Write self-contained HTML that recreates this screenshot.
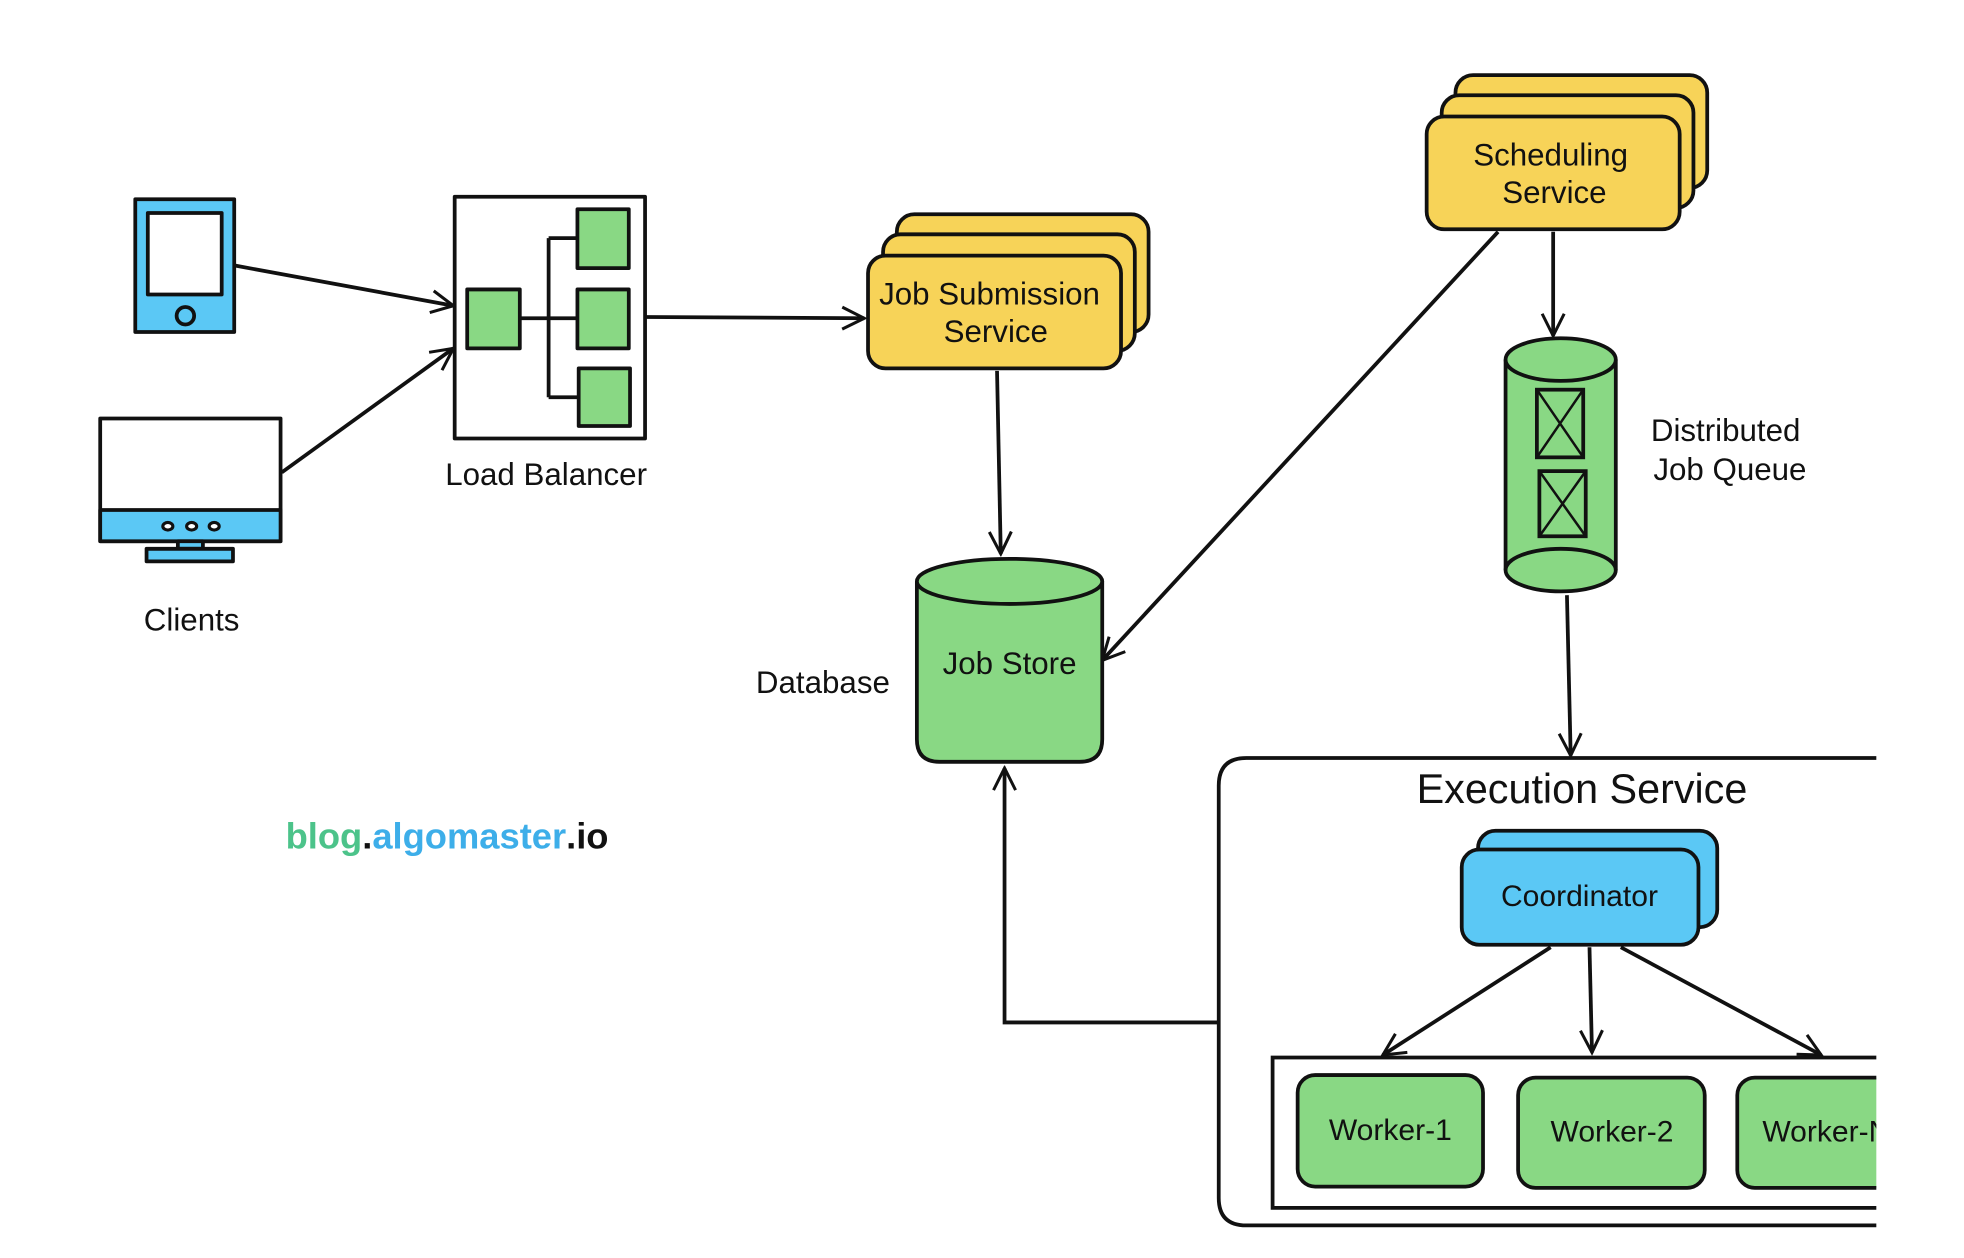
<!DOCTYPE html>
<html><head><meta charset="utf-8"><style>
html,body{margin:0;padding:0;background:#fff;width:1964px;height:1258px;overflow:hidden}
svg{display:block}
text{font-family:"Liberation Sans",sans-serif;fill:#111}
</style></head><body>
<svg width="1964" height="1258" viewBox="0 0 1568 1004" preserveAspectRatio="none" xmlns="http://www.w3.org/2000/svg">
<defs>
<marker id="a" viewBox="0 0 20 20" refX="18" refY="10" markerWidth="22" markerHeight="22" markerUnits="userSpaceOnUse" orient="auto">
<path d="M2,2 L18,10 L2,18" fill="none" stroke="#111" stroke-width="2.2"/>
</marker>
<clipPath id="c"><rect x="0" y="0" width="1498" height="1004"/></clipPath>
</defs>
<g stroke="#111" stroke-width="3" stroke-linejoin="round">
<rect x="108" y="159" width="79" height="106" fill="#5bc8f5"/>
<rect x="118" y="170" width="59" height="65" fill="#fff"/>
<circle cx="148" cy="252" r="7" fill="#5bc8f5"/>
<rect x="80" y="334" width="144" height="98" fill="#fff"/>
<rect x="80" y="407" width="144" height="25" fill="#5bc8f5"/>
<rect x="142" y="432" width="20" height="6" fill="#5bc8f5"/>
<rect x="117" y="438" width="69" height="10" fill="#5bc8f5"/>
<ellipse cx="134" cy="420" rx="4" ry="3" fill="#fff" stroke-width="2.5"/>
<ellipse cx="153" cy="420" rx="4" ry="3" fill="#fff" stroke-width="2.5"/>
<ellipse cx="171" cy="420" rx="4" ry="3" fill="#fff" stroke-width="2.5"/>
<rect x="363" y="157" width="152" height="193" fill="#fff"/>
<path d="M415,254 H461 M438,190 V317 M438,190 H461 M438,317 H461" fill="none"/>
<rect x="373" y="231" width="42" height="47" fill="#89d884"/>
<rect x="461" y="167" width="41" height="47" fill="#89d884"/>
<rect x="461" y="231" width="41" height="47" fill="#89d884"/>
<rect x="462" y="294" width="41" height="46" fill="#89d884"/>
</g>
<g stroke="#111" stroke-width="3" fill="none">
<line x1="188" y1="212" x2="362" y2="244" marker-end="url(#a)"/>
<line x1="225" y1="377" x2="362" y2="278" marker-end="url(#a)"/>
<line x1="515" y1="253" x2="690" y2="254" marker-end="url(#a)"/>
<line x1="796" y1="296" x2="799" y2="442" marker-end="url(#a)"/>
<line x1="1196" y1="185" x2="880" y2="527" marker-end="url(#a)"/>
<line x1="1240" y1="185" x2="1240" y2="268" marker-end="url(#a)"/>
<line x1="1251" y1="475" x2="1254" y2="603" marker-end="url(#a)"/>
<path d="M973,816 H802 V613" marker-end="url(#a)"/>
<line x1="1238" y1="756" x2="1104" y2="842" marker-end="url(#a)"/>
<line x1="1269" y1="756" x2="1271" y2="840" marker-end="url(#a)"/>
<line x1="1294" y1="756" x2="1454" y2="842" marker-end="url(#a)"/>
</g>
<g stroke="#111" stroke-width="3">
<rect x="716" y="171" width="201" height="94" rx="14" fill="#f7d358"/>
<rect x="705" y="187" width="201" height="93" rx="14" fill="#f7d358"/>
<rect x="693" y="204" width="202" height="90" rx="14" fill="#f7d358"/>
<rect x="1162" y="60" width="201" height="90" rx="14" fill="#f7d358"/>
<rect x="1151" y="76" width="201" height="90" rx="14" fill="#f7d358"/>
<rect x="1139" y="93" width="202" height="90" rx="14" fill="#f7d358"/>
<path d="M732,464 V590 Q732,608 750,608 H862 Q880,608 880,590 V464" fill="#89d884"/>
<ellipse cx="806" cy="464" rx="74" ry="18" fill="#89d884"/>
<path d="M1202,287 V455 A44,17 0 0 0 1290,455 V287" fill="#89d884"/>
<ellipse cx="1246" cy="287" rx="44" ry="17" fill="#89d884"/>
<path d="M1202,455 A44,17 0 0 1 1290,455" fill="none"/>
<rect x="1227" y="311" width="37" height="54" fill="#89d884"/>
<path d="M1227,311 L1264,365 M1264,311 L1227,365" fill="none" stroke-width="2"/>
<rect x="1229" y="376" width="37" height="52" fill="#89d884"/>
<path d="M1229,376 L1266,428 M1266,376 L1229,428" fill="none" stroke-width="2"/>
</g>
<g clip-path="url(#c)" stroke="#111" stroke-width="3">
<path d="M1560,605 H995 Q973,605 973,627 V956 Q973,978 995,978 H1560" fill="none"/>
<rect x="1180" y="663" width="191" height="77" rx="14" fill="#5bc8f5"/>
<rect x="1167" y="678" width="189" height="76" rx="14" fill="#5bc8f5"/>
<rect x="1016" y="844" width="560" height="120" fill="none"/>
<rect x="1036" y="858" width="148" height="89" rx="14" fill="#89d884"/>
<rect x="1212" y="860" width="149" height="88" rx="14" fill="#89d884"/>
<rect x="1387" y="860" width="149" height="88" rx="14" fill="#89d884"/>
<text x="1407" y="911" font-size="24" stroke="none">Worker-N</text>
</g>
<g font-size="25" text-anchor="middle">
<text x="153" y="503">Clients</text>
<text x="436" y="387">Load Balancer</text>
<text x="790" y="243">Job Submission</text>
<text x="795" y="273">Service</text>
<text x="1238" y="132">Scheduling</text>
<text x="1241" y="162">Service</text>
<text x="806" y="538">Job Store</text>
<text x="657" y="553">Database</text>
<text x="1318" y="352" text-anchor="start">Distributed</text>
<text x="1320" y="383" text-anchor="start">Job Queue</text>
<text x="1263" y="641" font-size="33">Execution Service</text>
<text x="1261" y="723" font-size="24">Coordinator</text>
<text x="1110" y="910" font-size="24">Worker-1</text>
<text x="1287" y="911" font-size="24">Worker-2</text>
</g>
<text x="228" y="677" font-size="29" font-weight="bold"><tspan fill="#4cc38a">blog</tspan><tspan fill="#111">.</tspan><tspan fill="#3daee9">algomaster</tspan><tspan fill="#111">.io</tspan></text>
</svg>
</body></html>
